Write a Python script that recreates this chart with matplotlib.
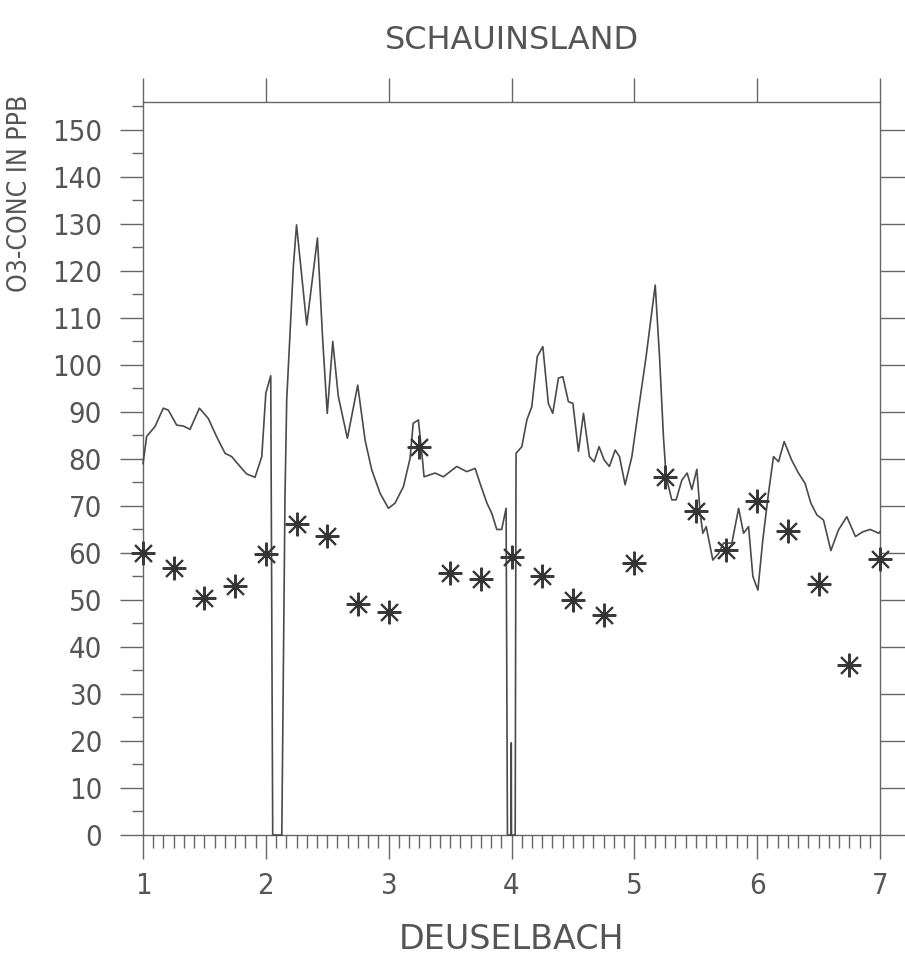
import numpy as np
import matplotlib
matplotlib.use("Agg")
import matplotlib.pyplot as plt
from matplotlib.ticker import MultipleLocator

# continuous ozone record (day index vs ppb)
line_x = [1.00, 1.03, 1.098, 1.165, 1.206, 1.274, 1.328, 1.383, 1.459, 1.532,
          1.600, 1.668, 1.722, 1.790, 1.844, 1.912, 1.967, 2.00, 2.04, 2.056,
          2.13, 2.156, 2.17, 2.224, 2.25, 2.333, 2.42, 2.463, 2.50, 2.545,
          2.59, 2.664, 2.748, 2.808, 2.862, 2.93, 2.998, 3.052, 3.12, 3.174,
          3.20, 3.242, 3.256, 3.278, 3.288, 3.378, 3.445, 3.554, 3.636, 3.704,
          3.744, 3.80, 3.84, 3.88, 3.92, 3.956, 3.967, 3.996, 3.998, 4.000,
          4.03, 4.037, 4.084, 4.125, 4.165, 4.21, 4.255, 4.30, 4.336, 4.382,
          4.418, 4.463, 4.50, 4.545, 4.586, 4.634, 4.673, 4.713, 4.754, 4.797,
          4.844, 4.879, 4.925, 4.98, 5.033, 5.096, 5.17, 5.205, 5.237, 5.259,
          5.305, 5.34, 5.387, 5.43, 5.468, 5.509, 5.536, 5.558, 5.585, 5.639,
          5.686, 5.726, 5.794, 5.849, 5.889, 5.93, 5.965, 6.006, 6.046, 6.092,
          6.133, 6.174, 6.22, 6.28, 6.336, 6.39, 6.437, 6.486, 6.54, 6.60,
          6.662, 6.73, 6.80, 6.86, 6.92, 6.99, 7.00]
line_y = [79.0, 84.8, 86.9, 90.8, 90.4, 87.2, 87.0, 86.3, 90.8, 88.6,
          84.7, 81.2, 80.5, 78.4, 76.8, 76.1, 80.5, 94.0, 97.7, 0.0,
          0.0, 72.0, 92.6, 120.9, 129.8, 108.5, 127.0, 105.3, 89.7, 105.0,
          93.3, 84.4, 95.7, 84.0, 77.7, 72.7, 69.5, 70.6, 74.1, 80.1,
          87.6, 88.3, 84.7, 79.1, 76.2, 77.0, 76.2, 78.4, 77.3, 78.0,
          74.8, 70.6, 68.4, 65.0, 65.0, 69.5, 0.0, 0.0, 19.6, 0.0,
          0.0, 81.2, 82.6, 88.3, 91.1, 101.8, 103.9, 91.8, 89.7, 97.2,
          97.5, 92.2, 91.8, 81.6, 89.7, 80.5, 79.4, 82.6, 79.8, 78.4,
          81.9, 80.5, 74.5, 80.5, 90.4, 101.8, 117.0, 101.8, 84.7, 76.2,
          71.3, 71.3, 75.5, 77.0, 73.5, 77.8, 68.4, 64.2, 65.6, 58.5,
          59.9, 62.1, 62.1, 69.5, 64.2, 65.6, 55.0, 52.1, 62.8, 72.7,
          80.5, 79.4, 83.7, 79.8, 77.0, 74.8, 70.6, 68.1, 67.0, 60.5,
          64.9, 67.7, 63.5, 64.5, 65.0, 64.2, 64.5]

# six-hourly values
star_x = [1.00, 1.25, 1.50, 1.75, 2.00, 2.25, 2.50, 2.75, 3.00, 3.25,
          3.50, 3.75, 4.00, 4.25, 4.50, 4.75, 5.00, 5.25, 5.50, 5.75,
          6.00, 6.25, 6.50, 6.75, 7.00]
star_y = [59.9, 56.9, 50.4, 53.0, 59.7, 66.1, 63.7, 49.1, 47.5, 82.6,
          55.7, 54.4, 59.2, 55.1, 50.0, 46.7, 57.8, 76.2, 69.0, 60.6,
          71.1, 64.7, 53.3, 36.2, 58.7]

x_ticks = [1, 2, 3, 4, 5, 6, 7]
y_ticks = list(range(0, 151, 10))

ink = "#4a4a4a"
txt = "#555555"

fig = plt.figure(figsize=(9.05, 9.64), dpi=100)
ax = fig.add_axes([143 / 905, 129 / 964, 737 / 905, 733.3 / 964])

ax.plot(line_x, line_y, color=ink, lw=1.2, clip_on=False, zorder=3)
ax.plot(star_x, star_y, ls="none", marker=(8, 2, 0), ms=17, mew=1.5,
        mec="#3a3a3a", clip_on=False, zorder=4)
ax.plot(star_x, star_y, ls="none", marker="o", ms=5, mfc="#333333",
        mec="none", clip_on=False, zorder=5)

ax.set_xlim(1, 7)
ax.set_ylim(0, 156)

for s in ax.spines.values():
    s.set_color("#666666")
    s.set_linewidth(1.0)

ax.set_xticks(x_ticks)
ax.xaxis.set_minor_locator(MultipleLocator(1 / 12))
ax.set_yticks(y_ticks)
ax.yaxis.set_minor_locator(MultipleLocator(5))

ax.tick_params(which="both", direction="out", colors="#666666", width=1.0,
               top=True, right=True, labelcolor=txt)
ax.tick_params(axis="x", which="major", length=17, pad=10, labelsize=21)
ax.tick_params(axis="x", which="minor", length=9.5, top=False)
ax.tick_params(axis="y", which="major", length=16.5, pad=13, labelsize=21)
ax.tick_params(axis="y", which="minor", length=8, right=False)
for t in ax.yaxis.get_major_ticks():
    t.tick2line.set_markersize(18)
for lab in ax.get_xticklabels() + ax.get_yticklabels():
    lab.set_fontstretch("condensed")

ax.text(0.5, -0.143, "DEUSELBACH", transform=ax.transAxes, ha="center",
        va="center", fontsize=24, color=txt)
ax.text(0.5, 1.084, "SCHAUINSLAND", transform=ax.transAxes, ha="center",
        va="center", fontsize=23, color=txt)
ax.text(-0.167, 0.875, "O3-CONC IN PPB", transform=ax.transAxes,
        ha="center", va="center", rotation=90, fontsize=19,
        fontstretch="condensed", color=txt)

fig.savefig("out.png", dpi=100, facecolor="white")
